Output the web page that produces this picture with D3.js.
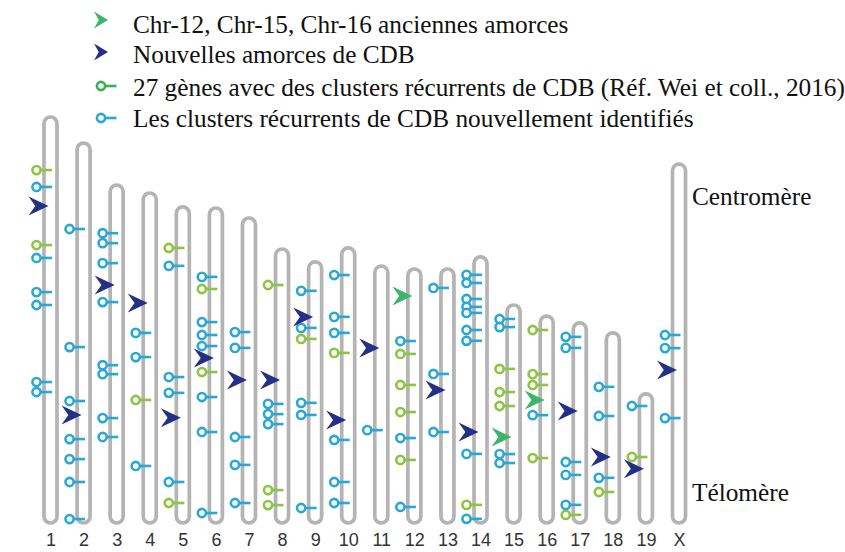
<!DOCTYPE html>
<html>
<head>
<meta charset="utf-8">
<script src="https://cdn.jsdelivr.net/npm/d3@7"></script>
<style>
  html, body { margin: 0; padding: 0; background: #fff; }
  svg { display: block; }
</style>
</head>
<body>
<svg id="chart" width="845" height="552"></svg>
<script>
// ---------------- DATA ----------------
const chromosomes = ["1","2","3","4","5","6","7","8","9","10","11","12","13","14","15","16","17","18","19","X"];
// chromosome lengths (Mb)
const chrLengths = [195, 182.5, 162.3, 158.5, 151.8, 151.3, 146.5, 131.6, 125.4, 132.1, 123.4, 122, 122, 127.8, 104.7, 99.4, 96.1, 91.3, 62, 172.4];

// positions in Mb from centromere (top)
const oldPrimers = [["12", 13.0], ["15", 63.4], ["16", 40.3]];
const newPrimers = [
  ["1", 42.7], ["2", 130.6], ["3", 48.0], ["4", 52.8], ["5", 101.3], ["6", 72.0],
  ["7", 77.8], ["8", 62.9], ["9", 26.4], ["10", 82.6], ["11", 39.4], ["13", 58.1],
  ["14", 84.1], ["17", 42.3], ["18", 59.6], ["19", 36.0], ["X", 98.9]
];
const knownClusters = [
  ["1", 25.5], ["1", 61.5], ["4", 99.4], ["5", 19.7], ["5", 142.2], ["6", 38.9], ["6", 78.8],
  ["8", 17.3], ["8", 115.8], ["8", 123.0], ["9", 37.0], ["10", 50.4],
  ["12", 40.8], ["12", 55.7], ["12", 68.7], ["12", 91.7], ["14", 119.1],
  ["15", 30.7], ["15", 41.8], ["15", 48.5], ["16", 6.7], ["16", 27.9], ["16", 33.1], ["16", 68.2],
  ["17", 92.2], ["18", 76.4], ["19", 30.3]
];
const newClusters = [
  ["1", 33.6], ["1", 67.7], ["1", 84.1], ["1", 90.3], ["1", 127.3], ["1", 132.1],
  ["2", 41.3], ["2", 98.0], ["2", 123.9], ["2", 142.2], ["2", 151.8], ["2", 162.8], ["2", 180.6],
  ["3", 23.1], ["3", 27.9], ["3", 37.5], ["3", 56.2], ["3", 86.5], ["3", 90.8], ["3", 111.9], ["3", 121.0],
  ["4", 67.2], ["4", 78.8], ["4", 131.1],
  ["5", 28.3], ["5", 81.7], ["5", 89.3], ["5", 132.1],
  ["6", 33.1], ["6", 54.8], ["6", 61.0], ["6", 66.3], ["6", 90.8], ["6", 107.6], ["6", 146.5],
  ["7", 54.8], ["7", 62.4], ["7", 105.2], ["7", 118.6], ["7", 136.9],
  ["8", 74.4], ["8", 79.3], ["8", 84.1],
  ["9", 13.9], ["9", 31.7], ["9", 67.7], ["9", 73.5], ["9", 118.2],
  ["10", 13.0], ["10", 33.1], ["10", 40.8], ["10", 92.2], ["10", 112.4], ["10", 122.5],
  ["11", 78.8],
  ["12", 34.6], ["12", 81.2], ["12", 114.3],
  ["13", 9.1], ["13", 50.4], ["13", 78.3],
  ["14", 8.6], ["14", 12.5], ["14", 20.2], ["14", 24.0], ["14", 26.9], ["14", 35.1], ["14", 40.3], ["14", 94.6], ["14", 125.8],
  ["15", 6.7], ["15", 10.6], ["15", 71.6], ["15", 75.9],
  ["16", 47.6],
  ["17", 6.7], ["17", 12.0], ["17", 66.8], ["17", 73.0], ["17", 87.4],
  ["18", 25.9], ["18", 39.9], ["18", 69.6],
  ["19", 5.8],
  ["X", 82.1], ["X", 88.4], ["X", 122.0]
];
const legendLabels = [
  "Chr-12, Chr-15, Chr-16 anciennes amorces",
  "Nouvelles amorces de CDB",
  "27 gènes avec des clusters récurrents de CDB (Réf. Wei et coll., 2016)",
  "Les clusters récurrents de CDB nouvellement identifiés"
];

// ---------------- STYLE ----------------
const C = {
  chrom: "#b4b4b4",
  navy: "#243085",
  greenArrow: "#3db56b",
  blue: "#29a8d6",
  lime: "#8cc540",
  legendGreen: "#3aad55"
};
const SERIF = "'Liberation Serif', 'Times New Roman', serif";
const SANS = "'Liberation Sans', Arial, sans-serif";

const svg = d3.select("#chart");
const x = d3.scalePoint().domain(chromosomes).range([50.5, 679]);
const y = d3.scaleLinear().domain([0, 195]).range([523, 117]);
const lenOf = Object.fromEntries(chromosomes.map((c, i) => [c, chrLengths[i]]));
const posY = (c, p) => y(lenOf[c] - p);

// chromosomes
const chrW = 13;
svg.append("g").selectAll("rect").data(chromosomes).join("rect")
  .attr("x", c => x(c) - chrW / 2)
  .attr("y", c => y(lenOf[c]))
  .attr("width", chrW)
  .attr("height", c => y(0) - y(lenOf[c]))
  .attr("rx", chrW / 2)
  .attr("fill", "#fff")
  .attr("stroke", C.chrom)
  .attr("stroke-width", 3.7);

// marker drawing helpers
function lollipop(g, cx, cy, color) {
  g.append("line").attr("x1", cx - 10).attr("x2", cx + 1.5).attr("y1", cy).attr("y2", cy)
    .attr("stroke", color).attr("stroke-width", 2.6);
  g.append("circle").attr("cx", cx - 14).attr("cy", cy).attr("r", 4.1)
    .attr("fill", "#fff").attr("stroke", color).attr("stroke-width", 2.6);
}
function arrow(g, tipX, cy, color, w, h) {
  const p = d3.path();
  p.moveTo(tipX, cy);
  p.lineTo(tipX - w, cy - h / 2);
  p.lineTo(tipX - w * 0.66, cy);
  p.lineTo(tipX - w, cy + h / 2);
  p.closePath();
  g.append("path").attr("d", p.toString()).attr("fill", color);
}

const mk = svg.append("g");
knownClusters.forEach(([c, p]) => lollipop(mk, x(c), posY(c, p), C.lime));
newClusters.forEach(([c, p]) => lollipop(mk, x(c), posY(c, p), C.blue));
newPrimers.forEach(([c, p]) => arrow(mk, x(c) - 2, posY(c, p), C.navy, 20, 19));
oldPrimers.forEach(([c, p]) => arrow(mk, x(c) - 2, posY(c, p), C.greenArrow, 20, 19));

// chromosome labels via axis
const ax = svg.append("g").attr("transform", "translate(0,530)")
  .call(d3.axisBottom(x).tickSize(0).tickPadding(3));
ax.select(".domain").remove();
ax.attr("font-family", null).attr("font-size", null);
ax.selectAll("text")
  .style("font-family", SANS)
  .style("font-size", "18px")
  .attr("fill", "#333");

// side labels
svg.append("text").attr("x", 692).attr("y", 205).text("Centromère")
  .style("font-family", SERIF).style("font-size", "25.3px").attr("fill", "#111");
svg.append("text").attr("x", 692).attr("y", 501).text("Télomère")
  .style("font-family", SERIF).style("font-size", "25.3px").attr("fill", "#111");

// legend
const lg = svg.append("g");
const rowY = [24, 54, 87, 118];
arrow(lg, 108, rowY[0] - 4, C.greenArrow, 14, 17);
arrow(lg, 108, rowY[1] - 2, C.navy, 14, 17);
lollipop(lg, 115, rowY[2] - 1, C.legendGreen);
lollipop(lg, 115, rowY[3], C.blue);
lg.selectAll("text").data(legendLabels).join("text")
  .attr("x", 133)
  .attr("y", (d, i) => rowY[i] + 9)
  .style("font-family", SERIF)
  .style("font-size", "25.3px")
  .attr("fill", "#111")
  .text(d => d);
</script>
</body>
</html>
